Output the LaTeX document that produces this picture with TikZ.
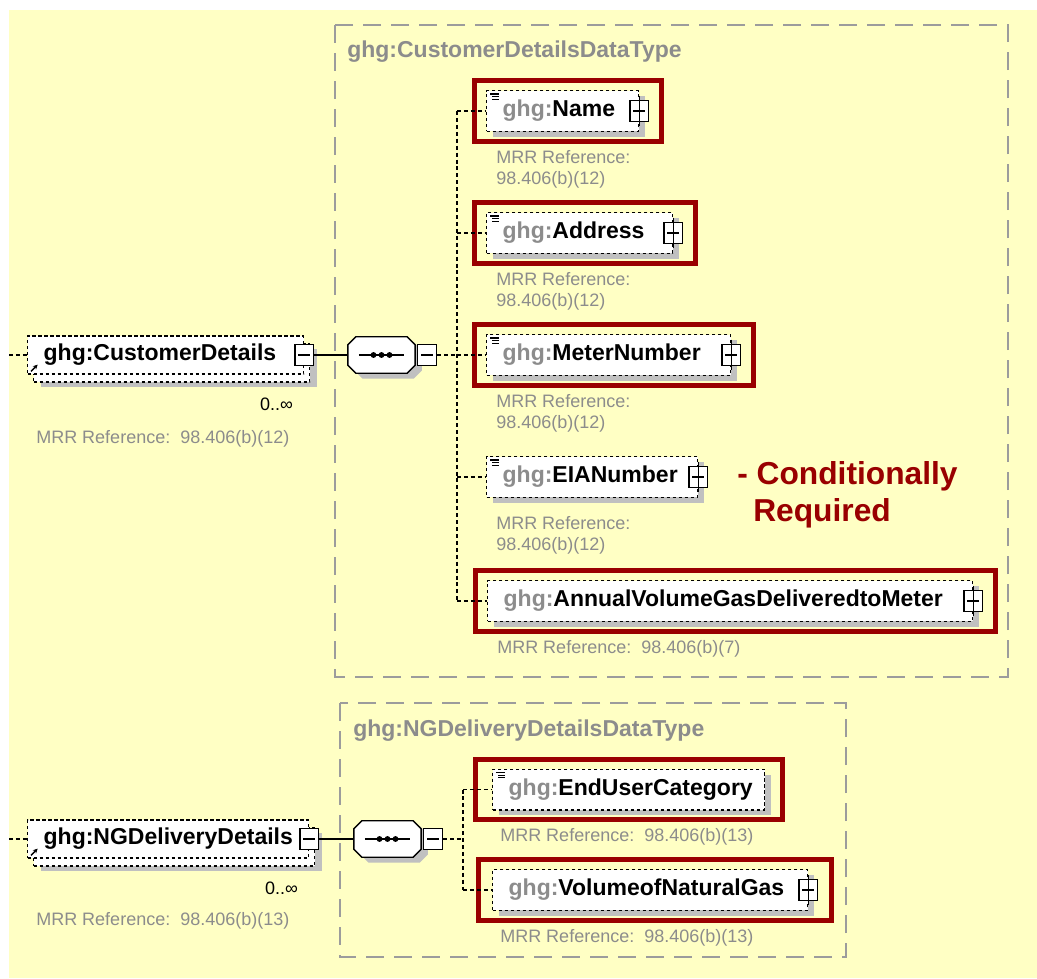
\documentclass[tikz,border=0pt]{standalone}
\usepackage{fontspec}
\setmainfont{Liberation Sans}
\usetikzlibrary{positioning,shadows,fit,arrows.meta}

\definecolor{bgyellow}{HTML}{FFFFC4}
\definecolor{frame}{HTML}{990000}
\definecolor{shade}{HTML}{C0C0C0}
\definecolor{prefix}{HTML}{8C8C8C}
\definecolor{boxgray}{HTML}{9C9C9C}

\newcommand{\ghgname}[1]{\mbox{\textcolor{prefix}{ghg:}#1}}
\newcommand{\ghgtop}[1]{\mbox{ghg:#1}}

\tikzset{
  basebox/.style={draw, dash pattern=on 2.6pt off 1.9pt, line width=1pt, fill=white,
    anchor=west, inner xsep=12pt, inner ysep=0pt, align=left,
    font=\fontsize{17.25}{20}\selectfont\bfseries},
  elem/.style={basebox, text width=#1, minimum height=30.5pt,
    drop shadow={shadow xshift=5pt, shadow yshift=-4pt, fill=shade, opacity=1}},
  multielem/.style={basebox, text width=#1, minimum height=28.5pt,
    drop shadow={shadow xshift=10pt, shadow yshift=-10pt, fill=shade, opacity=1},
    copy shadow={shadow xshift=4.5pt, shadow yshift=-6pt, draw, fill=white,
      dash pattern=on 2.6pt off 1.9pt}},
  seq/.style={rectangle, minimum width=50pt, minimum height=27pt, inner sep=0pt},
  seqline/.style={draw, line width=1pt, fill=white},
  seqshade/.style={fill=shade, transform canvas={shift={(5pt,-4pt)}}},
  minusbox/.style={draw, solid, line width=1pt, fill=white, minimum width=14pt,
    minimum height=16pt, inner sep=0pt,
    path picture={\draw[line width=1pt] ([xshift=2.5pt]path picture bounding box.west)
      -- ([xshift=-2.5pt]path picture bounding box.east);}},
  plusbox/.style={minusbox},
  conn/.style={line width=1pt, dash pattern=on 3pt off 2.2pt},
  link/.style={line width=1pt},
  doc/.style={line width=0.9pt},
  redframe/.style={draw=frame, line width=3.75pt, inner xsep=9pt, inner ysep=7pt},
  container/.style={draw=boxgray, line width=1.5pt, dash pattern=on 13.5pt off 7.5pt},
  typelabel/.style={anchor=west, text=prefix, inner sep=0pt,
    font=\fontsize{17.25}{20}\selectfont\bfseries},
  mrr/.style={text=prefix, inner sep=0pt, align=left, font=\fontsize{13.5}{15.75}\selectfont},
  occurs/.style={inner sep=0pt, font=\fontsize{13.5}{16}\selectfont},
  note/.style={text=frame, inner sep=0pt, align=left,
    font=\fontsize{23.8}{27.75}\selectfont\bfseries}
}

\begin{document}
\begin{tikzpicture}[x=0.75pt, y=-0.75pt]
% Canvas
\useasboundingbox (0,0) rectangle (1037,978);
\fill[bgyellow] (9,10) rectangle (1037,978);
% Type boxes
\draw[container] (335,25) rectangle (1008,677);
\draw[container] (340,703) rectangle (846,957);
\node[typelabel] (custtype) at (347,52) {ghg:CustomerDetailsDataType};
\node[typelabel] (ngtype) at (353,731) {ghg:NGDeliveryDetailsDataType};

% Nodes: customer details
\node[multielem=183pt] (cust) at (27,355) {\ghgtop{CustomerDetails}};
\node[minusbox] (custminus) at (cust.east) {};
\node[occurs, below left=17.5pt and 8.25pt of cust.south east] (custocc) {0..∞};
\node[mrr, below right=42pt and 6.75pt of cust.south west] (custmrr) {MRR Reference:~~98.406(b)(12)};
\node[seq] (custseq) at (381.5,355) {};
\coordinate (custin) at (9,355);
\coordinate (custbus) at (457,355);

\node[elem=90pt] (name) at (486,111) {\ghgname{Name}};
\node[elem=115.5pt] (address) at (486,233) {\ghgname{Address}};
\node[elem=159pt] (meter) at (486,355) {\ghgname{MeterNumber}};
\node[elem=134.25pt] (eia) at (486,477) {\ghgname{EIANumber}};
\node[elem=339.75pt] (annual) at (487,601) {\ghgname{AnnualVolumeGasDeliveredtoMeter}};
\node[plusbox] (plusname) at (name.east) {};
\node[plusbox] (plusaddress) at (address.east) {};
\node[plusbox] (plusmeter) at (meter.east) {};
\node[plusbox] (pluseia) at (eia.east) {};
\node[plusbox] (plusannual) at (annual.east) {};

\node[mrr, below right=13.5pt and 7.5pt of name.south west] (namemrr) {MRR Reference:\\98.406(b)(12)};
\node[mrr, below right=13.5pt and 7.5pt of address.south west] (addressmrr) {MRR Reference:\\98.406(b)(12)};
\node[mrr, below right=13.5pt and 7.5pt of meter.south west] (metermrr) {MRR Reference:\\98.406(b)(12)};
\node[mrr, below right=13.5pt and 7.5pt of eia.south west] (eiamrr) {MRR Reference:\\98.406(b)(12)};
\node[mrr, below right=13.5pt and 7.5pt of annual.south west] (annualmrr) {MRR Reference:~~98.406(b)(7)};
\node[note, anchor=north west] (condnote) at (737,461) {- Conditionally\\\hspace*{12pt}Required};

% Nodes: NG delivery details
\node[multielem=186.75pt] (ng) at (27,839) {\ghgtop{NGDeliveryDetails}};
\node[minusbox] (ngminus) at (ng.east) {};
\node[occurs, below left=17pt and 8.25pt of ng.south east] (ngocc) {0..∞};
\node[mrr, below right=40pt and 6.75pt of ng.south west] (ngmrr) {MRR Reference:~~98.406(b)(13)};
\node[seq] (ngseq) at (387.5,839) {};
\coordinate (ngin) at (9,839);
\coordinate (ngbus) at (463,839);

\node[elem=180pt] (enduser) at (492,789.5) {\ghgname{EndUserCategory}};
\node[elem=212.25pt] (volume) at (492,890) {\ghgname{VolumeofNaturalGas}};
\node[plusbox] (plusvolume) at (volume.east) {};
\node[mrr, below right=13.5pt and 6pt of enduser.south west] (endusermrr) {MRR Reference:~~98.406(b)(13)};
\node[mrr, below right=13.5pt and 6pt of volume.south west] (volumemrr) {MRR Reference:~~98.406(b)(13)};

% Sequence symbols
\fill[seqshade] ([xshift=6pt]custseq.north west) -- ([xshift=-6pt]custseq.north east) -- ([yshift=-6pt]custseq.north east) -- ([yshift=6pt]custseq.south east) -- ([xshift=-6pt]custseq.south east) -- ([xshift=6pt]custseq.south west) -- ([yshift=6pt]custseq.south west) -- ([yshift=-6pt]custseq.north west) -- cycle;
\path[seqline] ([xshift=6pt]custseq.north west) -- ([xshift=-6pt]custseq.north east) -- ([yshift=-6pt]custseq.north east) -- ([yshift=6pt]custseq.south east) -- ([xshift=-6pt]custseq.south east) -- ([xshift=6pt]custseq.south west) -- ([yshift=6pt]custseq.south west) -- ([yshift=-6pt]custseq.north west) -- cycle;
\draw[link] ([xshift=-17pt]custseq.center) -- ([xshift=17pt]custseq.center);
\fill ([xshift=-6pt]custseq.center) circle (2.2pt) (custseq.center) circle (2.2pt) ([xshift=6pt]custseq.center) circle (2.2pt);
\node[minusbox, right=1.5pt of custseq] (custseqminus) {};
\fill[seqshade] ([xshift=6pt]ngseq.north west) -- ([xshift=-6pt]ngseq.north east) -- ([yshift=-6pt]ngseq.north east) -- ([yshift=6pt]ngseq.south east) -- ([xshift=-6pt]ngseq.south east) -- ([xshift=6pt]ngseq.south west) -- ([yshift=6pt]ngseq.south west) -- ([yshift=-6pt]ngseq.north west) -- cycle;
\path[seqline] ([xshift=6pt]ngseq.north west) -- ([xshift=-6pt]ngseq.north east) -- ([yshift=-6pt]ngseq.north east) -- ([yshift=6pt]ngseq.south east) -- ([xshift=-6pt]ngseq.south east) -- ([xshift=6pt]ngseq.south west) -- ([yshift=6pt]ngseq.south west) -- ([yshift=-6pt]ngseq.north west) -- cycle;
\draw[link] ([xshift=-17pt]ngseq.center) -- ([xshift=17pt]ngseq.center);
\fill ([xshift=-6pt]ngseq.center) circle (2.2pt) (ngseq.center) circle (2.2pt) ([xshift=6pt]ngseq.center) circle (2.2pt);
\node[minusbox, right=1.5pt of ngseq] (ngseqminus) {};

% Plus signs
\draw[link] ([yshift=3pt]plusname.north) -- ([yshift=-3pt]plusname.south);
\draw[link] ([yshift=3pt]plusaddress.north) -- ([yshift=-3pt]plusaddress.south);
\draw[link] ([yshift=3pt]plusmeter.north) -- ([yshift=-3pt]plusmeter.south);
\draw[link] ([yshift=3pt]pluseia.north) -- ([yshift=-3pt]pluseia.south);
\draw[link] ([yshift=3pt]plusannual.north) -- ([yshift=-3pt]plusannual.south);
\draw[link] ([yshift=3pt]plusvolume.north) -- ([yshift=-3pt]plusvolume.south);

% Doc marks
\draw[doc] ([shift={(3pt,-3pt)}]name.north west) -- ++(7pt,0pt) ++(-5.5pt,-2pt) -- ++(5.5pt,0pt) ++(-5.5pt,-2pt) -- ++(5.5pt,0pt);
\draw[doc] ([shift={(3pt,-3pt)}]address.north west) -- ++(7pt,0pt) ++(-5.5pt,-2pt) -- ++(5.5pt,0pt) ++(-5.5pt,-2pt) -- ++(5.5pt,0pt);
\draw[doc] ([shift={(3pt,-3pt)}]meter.north west) -- ++(7pt,0pt) ++(-5.5pt,-2pt) -- ++(5.5pt,0pt) ++(-5.5pt,-2pt) -- ++(5.5pt,0pt);
\draw[doc] ([shift={(3pt,-3pt)}]eia.north west) -- ++(7pt,0pt) ++(-5.5pt,-2pt) -- ++(5.5pt,0pt) ++(-5.5pt,-2pt) -- ++(5.5pt,0pt);
\draw[doc] ([shift={(3pt,-3pt)}]enduser.north west) -- ++(7pt,0pt) ++(-5.5pt,-2pt) -- ++(5.5pt,0pt) ++(-5.5pt,-2pt) -- ++(5.5pt,0pt);
% Reference arrows
\draw[link, -{Stealth[length=3.5pt,width=3.5pt]}] ([shift={(3pt,2.5pt)}]cust.south west) -- ++(5pt,5pt);
\draw[link, -{Stealth[length=3.5pt,width=3.5pt]}] ([shift={(3pt,2.5pt)}]ng.south west) -- ++(5pt,5pt);

% Red frames
\node[redframe, fit=(name)(plusname)] (namefr) {};
\node[redframe, fit=(address)(plusaddress)] (addressfr) {};
\node[redframe, fit=(meter)(plusmeter)] (meterfr) {};
\node[redframe, fit=(annual)(plusannual)] (annualfr) {};
\node[redframe, fit=(enduser), inner xsep=12.5pt] (enduserfr) {};
\node[redframe, fit=(volume)(plusvolume), inner xsep=10pt] (volumefr) {};

% Lines
\draw[conn] (custin) -- (cust.west);
\draw[link] (custminus.east) -- (custseq.west);
\draw[conn] (custseqminus.east) -- (custbus);
\draw[conn] (custbus |- name.west) -- (custbus |- annual.west);
\draw[conn] (custbus |- name.west) -- (name.west);
\draw[conn] (custbus |- address.west) -- (address.west);
\draw[conn] (custbus |- meter.west) -- (meter.west);
\draw[conn] (custbus |- eia.west) -- (eia.west);
\draw[conn] (custbus |- annual.west) -- (annual.west);

\draw[conn] (ngin) -- (ng.west);
\draw[link] (ngminus.east) -- (ngseq.west);
\draw[conn] (ngseqminus.east) -- (ngbus);
\draw[conn] (ngbus |- enduser.west) -- (ngbus |- volume.west);
\draw[conn] (ngbus |- enduser.west) -- (enduser.west);
\draw[conn] (ngbus |- volume.west) -- (volume.west);
\end{tikzpicture}
\end{document}
